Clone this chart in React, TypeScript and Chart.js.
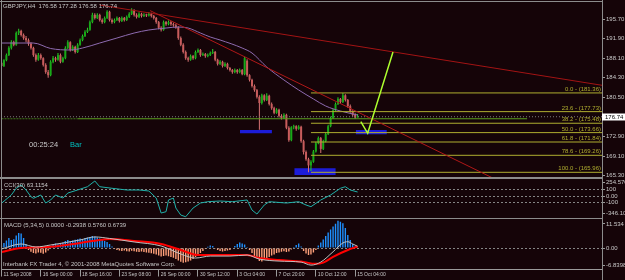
import React, { useEffect, useRef } from "react";
import { Chart, registerables } from "chart.js";

Chart.register(...registerables);

const FONT = "'Liberation Sans', Arial, sans-serif";
const BG = "#150408";
const AXIS = "#9a9a9a";
const TEXT = "#c8c8c8";
const BULL_BODY = "#18a818";
const BULL_WICK = "#2ad42a";
const BEAR_BODY = "#c85c5c";
const BEAR_WICK = "#d87474";
const MA_COLOR = "#8e6bb0";
const TREND_COLOR = "#a31414";
const STEEP_COLOR = "#b01818";
const FIB_COLOR = "#b0ae30";
const PROJ_COLOR = "#adff2f";
const BOX_COLOR = "#1c1cd8";
const HLINE_COLOR = "#5a9e1e";
const CCI_COLOR = "#20b2aa";
const HIST_UP = "#1e90ff";
const HIST_DN = "#ffa07a";

const X_MIN = -0.2;
const X_MAX = 244.5;

// ---- price bars (H4) ----
const openP = [
  187.2, 186.6, 187.7, 188.7, 190.1, 191.2, 190.7, 193.0, 193.4, 192.6,
  192.0, 191.6, 190.9, 190.1, 188.7, 187.8, 188.7, 188.1, 186.8, 185.4,
  184.8, 187.4, 188.1, 187.8, 188.7, 187.4, 188.1, 190.1, 191.2, 189.7,
  190.3, 189.3, 190.7, 191.6, 192.4, 193.2, 193.6, 195.1, 196.5, 195.9,
  196.5, 195.5, 195.1, 195.9, 197.1, 195.5, 195.1, 195.5, 195.9, 195.3,
  195.9, 195.5, 196.1, 196.7, 197.4, 196.5, 196.1, 196.7, 196.3, 196.5,
  196.4, 196.7, 196.3, 195.9, 195.1, 194.0, 193.6, 195.1, 194.7, 195.1,
  194.7, 194.5, 194.1, 192.0, 190.7, 189.3, 188.1, 187.8, 188.5, 188.1,
  189.3, 189.7, 188.7, 188.9, 188.5, 188.7, 189.1, 189.3, 187.8, 187.0,
  187.4, 186.6, 187.0, 186.2, 185.8, 185.4, 185.8, 185.4, 185.8, 185.0,
  187.6, 184.8, 183.9, 182.7, 181.9, 180.6, 179.4, 180.9, 180.0, 180.8,
  179.2, 178.4, 177.5, 178.1, 176.9, 176.5, 177.1, 174.6, 172.2, 174.7,
  174.9, 174.4, 174.8, 172.0, 169.9, 168.5, 167.3, 168.0, 170.0, 171.6,
  172.6, 170.5, 172.0, 173.4, 174.9, 176.5, 178.0, 179.2, 180.2, 179.6,
  180.9, 180.0, 178.8, 177.8, 177.1, 176.58,
];
const highP = [
  187.6, 187.9, 189.0, 190.4, 191.6, 191.5, 193.3, 193.8, 193.6, 192.9,
  192.4, 191.9, 191.2, 190.3, 189.0, 189.1, 189.0, 188.3, 187.1, 185.8,
  187.7, 188.5, 188.4, 189.1, 189.0, 188.4, 190.4, 191.6, 191.4, 190.6,
  190.5, 191.0, 191.9, 192.7, 193.5, 194.0, 195.4, 196.9, 196.8, 196.8,
  196.7, 195.8, 196.2, 197.4, 197.3, 195.8, 195.8, 196.2, 196.1, 196.2,
  196.1, 196.4, 197.0, 197.8, 197.6, 196.8, 197.0, 196.9, 196.8, 196.7,
  197.0, 196.9, 196.5, 196.1, 195.3, 194.3, 195.4, 195.3, 195.4, 195.3,
  195.0, 194.8, 194.3, 192.3, 191.0, 189.6, 188.4, 188.8, 188.7, 189.6,
  190.0, 189.9, 189.2, 189.1, 189.0, 189.4, 189.9, 189.5, 188.0, 187.7,
  187.6, 187.3, 187.2, 186.4, 186.0, 186.1, 186.0, 186.1, 186.0, 188.4,
  187.9, 185.0, 184.1, 183.0, 182.1, 180.9, 181.2, 181.1, 181.3, 181.0,
  179.5, 178.7, 178.4, 178.3, 177.2, 177.4, 177.3, 174.9, 174.9, 175.2,
  175.1, 175.1, 175.0, 172.3, 170.2, 168.8, 168.3, 170.3, 171.9, 172.9,
  172.8, 172.3, 173.7, 175.2, 176.8, 178.3, 179.5, 180.5, 180.4, 181.36,
  181.1, 180.2, 179.1, 178.0, 177.4, 177.28,
];
const lowP = [
  186.3, 186.4, 187.5, 188.5, 189.8, 190.4, 190.5, 192.6, 192.3, 191.7,
  191.2, 190.5, 189.8, 188.4, 187.4, 187.6, 187.8, 186.5, 185.1, 184.3,
  184.6, 187.1, 187.4, 187.6, 187.1, 187.2, 187.9, 189.9, 189.4, 189.5,
  189.0, 189.1, 190.5, 191.4, 192.2, 193.0, 193.4, 194.9, 195.6, 195.7,
  195.2, 194.8, 194.9, 195.7, 195.2, 194.8, 194.9, 195.3, 195.0, 195.1,
  195.2, 195.3, 195.9, 196.5, 196.2, 195.8, 195.9, 196.0, 196.1, 196.1,
  196.2, 196.0, 195.6, 194.8, 193.7, 193.3, 193.4, 194.4, 194.5, 194.4,
  194.2, 193.8, 191.7, 190.4, 189.0, 187.8, 187.4, 187.6, 187.8, 187.9,
  189.1, 188.4, 188.5, 188.2, 188.3, 188.5, 188.9, 187.5, 186.7, 186.8,
  186.3, 186.4, 185.9, 185.5, 185.1, 185.2, 185.1, 185.2, 184.8, 184.8,
  184.5, 183.6, 182.4, 181.6, 180.3, 174.2, 179.1, 179.7, 179.8, 178.9,
  178.1, 177.2, 177.3, 176.6, 176.2, 176.3, 174.3, 171.9, 172.0, 174.3,
  174.0, 174.2, 171.7, 169.4, 168.2, 165.96, 166.2, 167.8, 169.8, 171.4,
  169.7, 170.3, 171.8, 173.2, 174.7, 176.3, 177.8, 179.0, 179.3, 179.4,
  179.7, 178.5, 177.5, 176.8, 176.3, 176.58,
];
const closeP = [
  186.6, 187.7, 188.7, 190.1, 191.2, 190.7, 193.0, 193.4, 192.6, 192.0,
  191.6, 190.9, 190.1, 188.7, 187.8, 188.7, 188.1, 186.8, 185.4, 184.8,
  187.4, 188.1, 187.8, 188.7, 187.4, 188.1, 190.1, 191.2, 189.7, 190.3,
  189.3, 190.7, 191.6, 192.4, 193.2, 193.6, 195.1, 196.5, 195.9, 196.5,
  195.5, 195.1, 195.9, 197.1, 195.5, 195.1, 195.5, 195.9, 195.3, 195.9,
  195.5, 196.1, 196.7, 197.4, 196.5, 196.1, 196.7, 196.3, 196.5, 196.4,
  196.7, 196.3, 195.9, 195.1, 194.0, 193.6, 195.1, 194.7, 195.1, 194.7,
  194.5, 194.1, 192.0, 190.7, 189.3, 188.1, 187.8, 188.5, 188.1, 189.3,
  189.7, 188.7, 188.9, 188.5, 188.7, 189.1, 189.3, 187.8, 187.0, 187.4,
  186.6, 187.0, 186.2, 185.8, 185.4, 185.8, 185.4, 185.8, 185.0, 188.1,
  184.8, 183.9, 182.7, 181.9, 180.6, 179.4, 180.9, 180.0, 180.8, 179.2,
  178.4, 177.5, 178.1, 176.9, 176.5, 177.1, 174.6, 172.2, 174.7, 174.9,
  174.4, 174.8, 172.0, 169.9, 168.5, 167.3, 168.0, 170.0, 171.6, 172.6,
  170.5, 172.0, 173.4, 174.9, 176.5, 178.0, 179.2, 180.2, 179.6, 180.9,
  180.0, 178.8, 177.8, 177.1, 176.58, 176.74,
];

// ---- axis ticks ----
const xTickIdx = [0, 16, 32, 48, 64, 80, 96, 112, 128, 144];
const xTickLabels = [
  "11 Sep 2008", "16 Sep 00:00", "18 Sep 16:00", "23 Sep 08:00", "26 Sep 00:00",
  "30 Sep 12:00", "3 Oct 04:00", "7 Oct 20:00", "10 Oct 12:00", "15 Oct 04:00",
];
const priceTicks = [165.3, 169.1, 172.9, 176.7, 180.5, 184.3, 188.1, 191.9, 195.7];
const PRICE_MIN = 165.05;
const PRICE_MAX = 199.0;

// ---- moving average ----
const maIdx = [0, 13, 20, 28, 33, 40, 47, 54, 60, 67, 72, 76, 81, 85, 89, 98, 102, 108, 115, 121, 127, 132, 138, 145];
const maVal = [191.04, 191.04, 189.98, 189.69, 190.07, 191.04, 192.01, 192.98, 193.57, 193.95, 194.15, 193.95, 192.98, 192.21, 191.63, 190.07, 189.1, 186.39, 183.87, 181.93, 180.19, 178.82, 177.85, 177.08];

// ---- objects ----
const upperLineIdx = [40, 243.7];
const upperLineVal = [198.42, 182.9];
const steepLineIdx = [60.5, 201.7];
const steepLineVal = [197.33, 164.47];
const fibLevels = ["0.0", "23.6", "38.2", "50.0", "61.8", "78.6", "100.0"];
const fibPrices = [181.36, 177.73, 175.48, 173.66, 171.84, 169.26, 165.96];
const fibStartIdx = 126;
const projIdx = [146.3, 149.1, 159.4];
const projVal = [175.78, 173.53, 189.3];
const boxStart = [97.1, 119.2, 144.2];
const boxEnd = [110.1, 136.1, 156.9];
const boxTop = [174.17, 166.74, 174.17];
const boxBottom = [173.53, 165.44, 173.33];
const greenLineIdx = [0, 31, 214];
const greenLineVal = 176.35;

// ---- CCI(30) ----
const cciIdx = [0, 4, 6, 8, 10, 12, 13, 16, 18, 20, 22, 25, 27, 31, 35, 38, 40, 45, 51, 56, 60, 63, 65, 67, 68, 70, 71, 73, 75, 78, 81, 84, 89, 94, 100, 102, 104, 107, 109, 116, 121, 124, 126, 130, 134, 138, 140, 142, 145];
const cciVal = [-115, 16, 122, 174, 95, -11, -36, 16, -111, -63, 16, -32, 47, 95, 147, 237, 147, 122, 95, 95, 79, -32, -269, -248, -63, -32, -190, -301, -328, -190, -111, -90, -79, -90, -63, -222, -285, -142, -90, -111, -90, -142, -169, -63, 16, 122, 147, 95, 63];
const CCI_MIN = -346.1035;
const CCI_MAX = 254.5707;
const cciTickLabels = ["-346.1035", "-100", "0.00", "100", "254.5707"];
const cciLevels = [-100, 0, 100];

// ---- MACD (5,34,5) ----
const macdHist = [
  1.0, 2.0, 3.0, 4.0, 3.2, 3.5, 5.0, 6.0, 5.8, 4.0,
  1.5, -0.8, -1.5, -2.0, -2.2, -1.8, -1.9, -2.3, -1.8, -1.0,
  0.3, 1.2, 1.8, 1.5, 2.0, 2.2, 2.8, 3.2, 2.8, 3.0,
  3.3, 3.5, 3.8, 3.6, 4.0, 4.2, 4.3, 4.8, 4.6, 4.2,
  3.8, 3.2, 2.8, 2.4, 1.6, 0.6, -0.4, -0.8, -1.0, -1.2,
  -1.0, -1.3, -1.4, -1.1, -1.3, -1.5, -1.6, -1.4, -1.6, -1.8,
  -1.9, -2.1, -2.3, -2.6, -3.0, -3.4, -3.2, -3.0, -3.3, -3.6,
  -3.9, -4.4, -5.0, -5.5, -5.9, -5.7, -5.4, -5.0, -4.4, -3.6,
  -2.8, -2.0, -1.2, -0.4, 0.5, 1.0, 0.8, -0.3, -0.8, -1.2,
  -1.4, -1.2, -1.0, -0.8, -0.2, 0.8, 1.6, 2.2, 1.8, 1.4,
  0.4, -0.8, -2.0, -3.2, -4.2, -5.2, -5.4, -4.8, -4.4, -3.6,
  -3.0, -2.6, -2.0, -1.8, -1.5, -1.3, -1.6, -1.4, -0.6, 0.4,
  1.2, 1.8, 0.6, -1.2, -2.2, -2.8, -2.6, -1.8, -0.8, 1.0,
  2.2, 3.4, 4.8, 6.2, 7.4, 8.6, 9.6, 10.8, 10.4, 9.8,
  8.0, 5.2, 3.2, 1.6, 0.6, -0.29,
];
const redIdx = [0, 8, 20, 32, 40, 44, 54, 65, 73, 80, 89, 100, 105, 113, 122, 128, 131, 135, 141, 145];
const redVal = [-1.6, 0, 0.5, 2.0, 3.2, 3.6, 2.8, 1.6, -0.8, -2.8, -2.8, -2.8, -4.0, -4.8, -5.4, -6.3, -5.8, -3.5, -0.8, 0.576];
const grayIdx = [0, 8, 14, 20, 32, 38, 44, 54, 65, 73, 79, 85, 93, 100, 105, 113, 122, 126, 130, 135, 139, 141, 143, 145];
const grayVal = [-0.4, 1.6, 0.4, 1.2, 3.2, 4.4, 3.8, 2.4, 0.8, -2.4, -4.0, -3.2, -3.2, -2.8, -4.4, -5.2, -5.6, -6.8, -5.6, -1.5, 2.0, 2.5, 1.6, 0.674];
const MACD_MIN = -8.55;
const MACD_MAX = 11.534;
const macdTickLabels = ["-6.8398", "0.00", "11.534"];
const macdTickVals = [-6.8398, 0];

const idx = closeP.map((_, i) => i);
const last = closeP.length - 1;

function pts(xs: number[], ys: number[]) {
  return xs.map((x, k) => ({ x, y: ys[k] }));
}
function ray(xs: number[], ys: number[]) {
  const slope = (ys[1] - ys[0]) / (xs[1] - xs[0]);
  return [
    { x: xs[0], y: ys[0] },
    { x: X_MAX, y: ys[0] + slope * (X_MAX - xs[0]) },
  ];
}

function fontAvailable(name: string) {
  const c = document.createElement("canvas").getContext("2d");
  if (!c) return false;
  const s = "16 Sep 00:00 abcdefghijklm";
  c.font = "20px monospace";
  const a = c.measureText(s).width;
  c.font = `20px '${name}', monospace`;
  const b = c.measureText(s).width;
  return Math.abs(a - b) > 0.5;
}

type Txt = { text: string; x: number; y: number; color: string; size: number };
function overlayPlugin(texts: Txt[]) {
  return {
    id: "overlayText",
    afterDraw(chart: any) {
      const ctx = chart.ctx;
      ctx.save();
      for (const t of texts) {
        ctx.font = `${t.size}px ${FONT}`;
        ctx.fillStyle = t.color;
        ctx.textAlign = "left";
        ctx.textBaseline = "middle";
        ctx.fillText(t.text, t.x, t.y);
      }
      ctx.restore();
    },
  };
}
function framePlugin(lines: number[][]) {
  return {
    id: "frameLines",
    afterDraw(chart: any) {
      const ctx = chart.ctx;
      ctx.save();
      ctx.strokeStyle = "#8c8c8c";
      ctx.lineWidth = 1;
      for (const l of lines) {
        ctx.beginPath();
        ctx.moveTo(l[0], l[1]);
        ctx.lineTo(l[2], l[3]);
        ctx.stroke();
      }
      ctx.restore();
    },
  };
}
const fibLabelPlugin = {
  id: "fibLabels",
  afterDatasetsDraw(chart: any) {
    const ctx = chart.ctx;
    const y = chart.scales.y;
    ctx.save();
    ctx.font = `6px ${FONT}`;
    ctx.fillStyle = FIB_COLOR;
    ctx.textAlign = "right";
    ctx.textBaseline = "bottom";
    fibPrices.forEach((p, k) => {
      ctx.fillText(`${fibLevels[k]} - (${p.toFixed(2)})`, chart.chartArea.right - 1, y.getPixelForValue(p) - 0.5);
    });
    ctx.restore();
  },
};
const priceBoxPlugin = {
  id: "priceBox",
  afterDraw(chart: any) {
    const ctx = chart.ctx;
    const py = chart.scales.y.getPixelForValue(closeP[last]);
    const left = chart.chartArea.right;
    ctx.save();
    ctx.fillStyle = "#ffffff";
    ctx.fillRect(left, Math.round(py) - 3.5, 23, 7);
    ctx.fillStyle = "#000000";
    ctx.font = `6px ${FONT}`;
    ctx.textAlign = "left";
    ctx.textBaseline = "middle";
    ctx.fillText(closeP[last].toFixed(2), left + 3, Math.round(py));
    ctx.restore();
  },
};

const tickFont = { family: FONT, size: 6 };

function rightAxis(min: number, max: number, build: (s: any) => void, labelFn: (v: any, i: number) => string, gridColor: any, dash: number[]) {
  return {
    position: "right",
    min,
    max,
    bounds: "data",
    afterBuildTicks: build,
    afterFit: (s: any) => {
      s.width = 23;
      s.paddingTop = 0;
      s.paddingBottom = 0;
    },
    ticks: { autoSkip: false, color: TEXT, font: tickFont, padding: 1, callback: labelFn },
    grid: { drawOnChartArea: true, drawTicks: true, tickLength: 3, tickColor: AXIS, color: gridColor },
    border: { display: true, color: AXIS, dash },
  };
}

function hiddenX() {
  return { type: "linear", min: X_MIN, max: X_MAX, bounds: "data", offset: false, display: false };
}

function baseOptions(padding: any, scales: any) {
  return {
    animation: false,
    responsive: false,
    events: [],
    layout: { padding },
    plugins: { legend: { display: false }, tooltip: { enabled: false } },
    scales,
  };
}

function buildMain() {
  const bull = idx.map((i) => closeP[i] >= openP[i]);
  const line = (data: any[], color: string, width: number, order: number, extra: any = {}) => ({
    type: "line",
    data,
    borderColor: color,
    borderWidth: width,
    pointRadius: 0,
    tension: 0,
    order,
    ...extra,
  });
  const datasets: any[] = [
    ...boxStart.map((s, k) => ({
      type: "line",
      data: [{ x: s, y: boxTop[k] }, { x: boxEnd[k], y: boxTop[k] }],
      fill: { value: boxBottom[k] },
      backgroundColor: BOX_COLOR,
      borderColor: BOX_COLOR,
      borderWidth: 0,
      pointRadius: 0,
      order: 30,
    })),
    {
      type: "bar",
      data: idx.map((i) => ({ x: i, y: [lowP[i], highP[i]] })),
      backgroundColor: idx.map((i) => (bull[i] ? BULL_WICK : BEAR_WICK)),
      barThickness: 1,
      grouped: false,
      inflateAmount: 0,
      order: 21,
    },
    {
      type: "bar",
      data: idx.map((i) => ({ x: i, y: [openP[i], closeP[i]] })),
      backgroundColor: idx.map((i) => (bull[i] ? BULL_BODY : BEAR_BODY)),
      barThickness: 2,
      minBarLength: 1,
      grouped: false,
      inflateAmount: 0,
      order: 20,
    },
    line(pts(maIdx, maVal), MA_COLOR, 1, 10, { cubicInterpolationMode: "monotone" }),
    line([{ x: greenLineIdx[0], y: greenLineVal }, { x: greenLineIdx[1], y: greenLineVal }], "#3f7a1a", 1, 9, { borderDash: [2, 1] }),
    line([{ x: greenLineIdx[1], y: greenLineVal }, { x: greenLineIdx[2], y: greenLineVal }], HLINE_COLOR, 1, 9),
    line([{ x: X_MIN, y: closeP[last] }, { x: X_MAX, y: closeP[last] }], "#7c7c7c", 1, 9, { borderDash: [1, 2] }),
    ...fibPrices.map((p) => line([{ x: fibStartIdx, y: p }, { x: X_MAX, y: p }], FIB_COLOR, 1, 8)),
    line(ray(upperLineIdx, upperLineVal), TREND_COLOR, 1, 6),
    line(ray(steepLineIdx, steepLineVal), STEEP_COLOR, 1, 6),
    line(pts(projIdx, projVal), PROJ_COLOR, 1.5, 5),
  ];
  const title = `GBPJPY,H4  ${openP[last].toFixed(2)} ${highP[last].toFixed(2)} ${lowP[last].toFixed(2)} ${closeP[last].toFixed(2)}`;
  return {
    type: "bar",
    data: { datasets },
    options: baseOptions(
      { left: 1, right: 0, top: 2, bottom: 1 },
      {
        x: hiddenX(),
        y: rightAxis(
          PRICE_MIN,
          PRICE_MAX,
          (s: any) => {
            s.ticks = priceTicks.map((v) => ({ value: v }));
          },
          (v: any) => Number(v).toFixed(2),
          "transparent",
          []
        ),
      }
    ),
    plugins: [
      fibLabelPlugin,
      framePlugin([
        [0, 1.5, 602, 1.5],
        [1.5, 0, 1.5, 178],
        [0, 177.5, 602, 177.5],
        [602.5, 0, 602.5, 178],
      ]),
      overlayPlugin([
        { text: title, x: 3, y: 6.5, color: TEXT, size: 6 },
        { text: "00:25:24", x: 29, y: 145, color: TEXT, size: 7.5 },
        { text: "Bar", x: 70, y: 145, color: "#00c0c0", size: 7.5 },
      ]),
      priceBoxPlugin,
    ],
  };
}

function buildCci() {
  return {
    type: "line",
    data: {
      datasets: [
        {
          data: pts(cciIdx, cciVal),
          borderColor: CCI_COLOR,
          borderWidth: 1,
          pointRadius: 0,
          tension: 0,
        },
      ],
    },
    options: baseOptions(
      { left: 1, right: 0, top: 1.9, bottom: 1.1 },
      {
        x: hiddenX(),
        y: rightAxis(
          CCI_MIN,
          CCI_MAX,
          (s: any) => {
            const k = (s.max - s.min) / (s.height || 38);
            s.ticks = [s.min + 4.6 * k, ...cciLevels, s.max - 2.4 * k].map((v) => ({ value: v }));
          },
          (_v: any, i: number) => cciTickLabels[i],
          (ctx: any) => (ctx.tick && cciLevels.includes(ctx.tick.value) ? "#858585" : "transparent"),
          [2, 2]
        ),
      }
    ),
    plugins: [
      framePlugin([
        [0, 0.5, 602, 0.5],
        [0, 40.5, 602, 40.5],
        [1.5, 0, 1.5, 41],
        [602.5, 0, 602.5, 41],
      ]),
      overlayPlugin([{ text: "CCI(30) 63.1154", x: 4, y: 7, color: TEXT, size: 6 }]),
    ],
  };
}

function buildMacd(xFont: any) {
  return {
    type: "bar",
    data: {
      datasets: [
        {
          type: "bar",
          data: idx.map((i) => ({ x: i, y: macdHist[i] })),
          backgroundColor: idx.map((i) => (macdHist[i] >= 0 ? HIST_UP : HIST_DN)),
          barThickness: 1.4,
          inflateAmount: 0,
          grouped: false,
          order: 5,
        },
        {
          type: "line",
          data: pts(redIdx, redVal),
          borderColor: "#ff0000",
          borderWidth: 2,
          pointRadius: 0,
          cubicInterpolationMode: "monotone",
          order: 2,
        },
        {
          type: "line",
          data: pts(grayIdx, grayVal),
          borderColor: "#c0c0c0",
          borderWidth: 1,
          pointRadius: 0,
          cubicInterpolationMode: "monotone",
          order: 1,
        },
      ],
    },
    options: baseOptions(
      { left: 1, right: 0, top: 0, bottom: 0 },
      {
        x: {
          type: "linear",
          min: X_MIN,
          max: X_MAX,
          bounds: "data",
          offset: false,
          position: "bottom",
          afterBuildTicks: (s: any) => {
            s.ticks = xTickIdx.map((v) => ({ value: v }));
          },
          afterFit: (s: any) => {
            s.height = 10.5;
            s.paddingLeft = 0;
            s.paddingRight = 0;
          },
          ticks: {
            autoSkip: false,
            maxRotation: 0,
            minRotation: 0,
            align: "start",
            labelOffset: 2,
            padding: -5,
            color: TEXT,
            font: xFont,
            callback: (_v: any, i: number) => xTickLabels[i],
          },
          grid: { drawOnChartArea: false, drawTicks: true, tickLength: 7, tickColor: AXIS, offset: false },
          border: { display: true, color: AXIS },
        },
        y: rightAxis(
          MACD_MIN,
          MACD_MAX,
          (s: any) => {
            const k = (s.max - s.min) / (s.height || 50);
            s.ticks = [...macdTickVals, s.max - 5 * k].map((v) => ({ value: v }));
          },
          (_v: any, i: number) => macdTickLabels[i],
          (ctx: any) => (ctx.tick && ctx.tick.value === 0 ? "#858585" : "transparent"),
          [2, 2]
        ),
      }
    ),
    plugins: [
      framePlugin([
        [1.5, 0, 1.5, 51],
        [602.5, 0, 602.5, 61],
      ]),
      overlayPlugin([
        { text: "MACD (5,34,5) 0.0000 -0.2938 0.5760 0.6739", x: 4, y: 6.5, color: TEXT, size: 6 },
        { text: "Interbank FX Trader 4, \u00a9 2001-2008 MetaQuotes Software Corp.", x: 3, y: 45.5, color: TEXT, size: 6 },
      ]),
    ],
  };
}

export default function App() {
  const mainRef = useRef<HTMLCanvasElement>(null);
  const cciRef = useRef<HTMLCanvasElement>(null);
  const macdRef = useRef<HTMLCanvasElement>(null);

  useEffect(() => {
    document.body.style.margin = "0";
    document.body.style.background = BG;
    const narrow = fontAvailable("Liberation Sans Narrow");
    const xFont = narrow ? { family: "'Liberation Sans Narrow', " + FONT, size: 6 } : { family: FONT, size: 5 };
    const charts = [
      new Chart(mainRef.current as HTMLCanvasElement, buildMain() as any),
      new Chart(cciRef.current as HTMLCanvasElement, buildCci() as any),
      new Chart(macdRef.current as HTMLCanvasElement, buildMacd(xFont) as any),
    ];
    return () => charts.forEach((c) => c.destroy());
  }, []);

  return (
    <div style={{ position: "relative", width: 625, height: 280, background: BG, overflow: "hidden" }}>
      <canvas ref={mainRef} width={625} height={178} style={{ position: "absolute", left: 0, top: 0 }} />
      <canvas ref={cciRef} width={625} height={41} style={{ position: "absolute", left: 0, top: 178 }} />
      <canvas ref={macdRef} width={625} height={61} style={{ position: "absolute", left: 0, top: 219 }} />
    </div>
  );
}
